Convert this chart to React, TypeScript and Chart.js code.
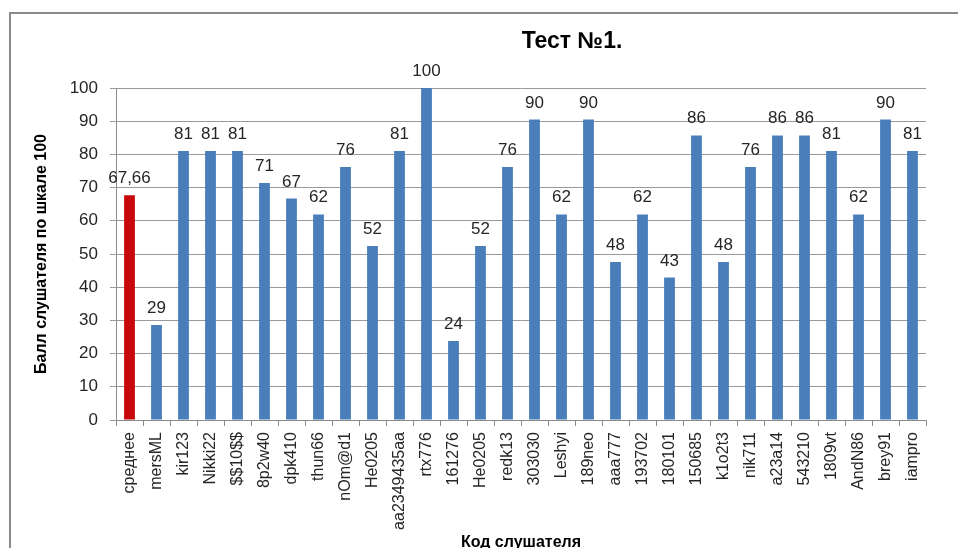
import React, { useEffect, useRef } from "react";
import { Chart, registerables } from "chart.js";

Chart.register(...registerables);

const chartTitle = "Тест №1.";
const yTitle = "Балл слушателя по шкале 100";
const xTitle = "Код слушателя";

const categories = [
  "среднее", "mersML", "kir123", "Nikki22", "$$10$$", "8p2w40", "dpk410", "thun66",
  "nOm@d1", "He0205", "aa2349435aa", "rtx776", "161276", "He0205", "redk13", "303030",
  "Leshyi", "189neo", "aaa777", "193702", "180101", "150685", "k1o2t3", "nik711",
  "a23a14", "543210", "1809vt", "AndN86", "brey91", "iampro",
];

const scores = [
  67.66, 28.6, 81, 81, 81, 71.4, 66.7, 61.9,
  76.2, 52.4, 81, 100, 23.8, 52.4, 76.2, 90.5,
  61.9, 90.5, 47.6, 61.9, 42.9, 85.7, 47.6, 76.2,
  85.7, 85.7, 81, 61.9, 90.5, 81,
];

const valueLabels = [
  "67,66", "29", "81", "81", "81", "71", "67", "62",
  "76", "52", "81", "100", "24", "52", "76", "90",
  "62", "90", "48", "62", "43", "86", "48", "76",
  "86", "86", "81", "62", "90", "81",
];

const barColors = categories.map((_, i) => (i === 0 ? "#c8090c" : "#4a7ebb"));

const FONT = "'Liberation Sans', Arial, sans-serif";

const framePlugin = {
  id: "frame",
  beforeDraw(chart: any) {
    const { ctx, width, height } = chart;
    ctx.save();
    ctx.fillStyle = "#ffffff";
    ctx.fillRect(0, 0, width, height);
    ctx.strokeStyle = "#8a8a8a";
    ctx.lineWidth = 2;
    ctx.beginPath();
    ctx.moveTo(10, height);
    ctx.lineTo(10, 13);
    ctx.lineTo(width, 13);
    ctx.stroke();
    ctx.restore();
  },
  afterDraw(chart: any) {
    const { ctx } = chart;
    ctx.save();
    ctx.fillStyle = "#000000";
    ctx.font = `bold 23px ${FONT}`;
    ctx.textAlign = "center";
    ctx.textBaseline = "middle";
    ctx.fillText(chartTitle, 572, 42);
    ctx.restore();
  },
};

const valueLabelPlugin = {
  id: "valueLabels",
  afterDatasetsDraw(chart: any) {
    const { ctx } = chart;
    const meta = chart.getDatasetMeta(0);
    ctx.save();
    ctx.fillStyle = "#262626";
    ctx.font = `17px ${FONT}`;
    ctx.textAlign = "center";
    ctx.textBaseline = "alphabetic";
    meta.data.forEach((bar: any, i: number) => {
      ctx.fillText(valueLabels[i], bar.x, bar.y - 12);
    });
    ctx.restore();
  },
};

export default function App() {
  const canvasRef = useRef<HTMLCanvasElement | null>(null);

  useEffect(() => {
    document.body.style.margin = "0";
    const canvas = canvasRef.current;
    if (!canvas) return;
    const chart = new Chart(canvas, {
      type: "bar",
      data: {
        labels: categories,
        datasets: [
          {
            data: scores,
            backgroundColor: barColors,
            borderWidth: 0,
            categoryPercentage: 1,
            barPercentage: 0.4,
          },
        ],
      },
      options: {
        responsive: false,
        animation: false,
        devicePixelRatio: 1,
        layout: { padding: { top: 88, left: 30, right: 32, bottom: 0 } },
        plugins: {
          legend: { display: false },
          tooltip: { enabled: false },
          title: { display: false },
        },
        scales: {
          x: {
            afterFit: (scale: any) => {
              scale.height = 128;
            },
            grid: {
              display: true,
              drawOnChartArea: false,
              drawTicks: true,
              tickLength: 6,
              color: "#8c8c8c",
              offset: true,
            },
            border: { display: true, color: "#8c8c8c" },
            ticks: {
              autoSkip: false,
              minRotation: 90,
              maxRotation: 90,
              padding: 6,
              color: "#262626",
              font: { family: FONT, size: 16 },
            },
            title: {
              display: true,
              text: xTitle,
              color: "#000000",
              font: { family: FONT, size: 16, weight: "bold" },
              padding: { top: 0, bottom: -4 },
            },
          },
          y: {
            min: 0,
            max: 100,
            afterFit: (scale: any) => {
              scale.width = 86;
            },
            grid: {
              color: "#9a9a9a",
              tickLength: 6,
            },
            border: { display: true, color: "#8c8c8c" },
            ticks: {
              stepSize: 10,
              padding: 12,
              color: "#262626",
              font: { family: FONT, size: 17 },
            },
            title: {
              display: true,
              text: yTitle,
              color: "#000000",
              font: { family: FONT, size: 16, weight: "bold" },
              padding: { top: 2, bottom: 0 },
            },
          },
        },
      },
      plugins: [framePlugin, valueLabelPlugin],
    } as any);
    return () => chart.destroy();
  }, []);

  return (
    <div style={{ width: 958, height: 548, position: "relative" }}>
      <canvas ref={canvasRef} width={958} height={548} style={{ display: "block" }} />
    </div>
  );
}
